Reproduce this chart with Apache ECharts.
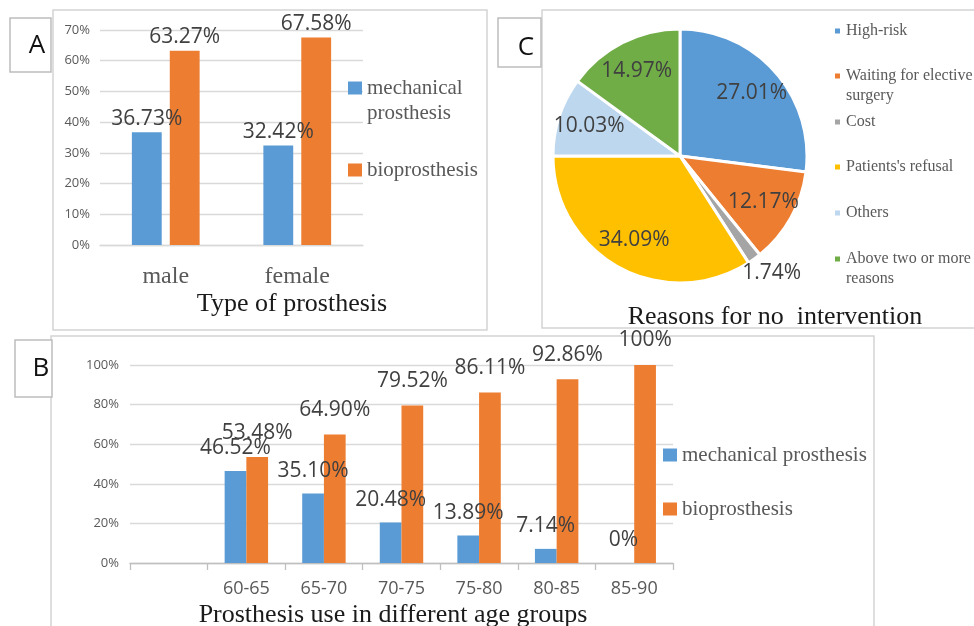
<!DOCTYPE html>
<html><head><meta charset="utf-8">
<script src="https://cdn.jsdelivr.net/npm/echarts@6/dist/echarts.min.js"></script>
<style>html,body{margin:0;padding:0;background:#fff}#c{width:974px;height:626px}</style>
</head><body><div id="c"></div><script>
// ---- data ----
const genderCats = ['male', 'female'];
const genderMech = [36.73, 32.42];
const genderBio = [63.27, 67.58];
const ageCats = ['', '60-65', '65-70', '70-75', '75-80', '80-85', '85-90'];
const ageMech = [null, 46.52, 35.10, 20.48, 13.89, 7.14, 0];
const ageBio = [null, 53.48, 64.90, 79.52, 86.11, 92.86, 100];
const reasonNames = ['High-risk', 'Waiting for elective surgery', 'Cost', "Patients's refusal", 'Others', 'Above two or more reasons'];
const reasonValues = [27.01, 12.17, 1.74, 34.09, 10.03, 14.97];
const seriesNames = ['mechanical prosthesis', 'bioprosthesis'];
const genderTicks = [0, 10, 20, 30, 40, 50, 60, 70];
const ageTicks = [0, 20, 40, 60, 80, 100];

// ---- styles ----
const BLUE = '#5b9bd5', ORANGE = '#ed7d31';
const pieColors = ['#5b9bd5', '#ed7d31', '#a5a5a5', '#ffc000', '#bdd7ee', '#70ad47'];
const SERIF = 'Liberation Serif';
const SANS = 'Open Sans';
const LABEL = '#404040';
const GRAYTXT = '#595959';
const GRID = '#d9d9d9';

const fmt = v => (v === 0 || v === 100) ? v + '%' : v.toFixed(2) + '%';

// legend item whose icon lines up with the first text line
function legendItem(name, text, left, cy, iw, ih, lh, fs) {
  const lines = text.split('\n').length;
  const shown = '\n'.repeat(lines - 1) + text;
  return {
    data: [name], left: left, top: cy - lh * (2 * lines - 1) / 2, padding: 0,
    itemWidth: iw, itemHeight: ih, selectedMode: false, icon: 'rect',
    formatter: () => shown,
    textStyle: { fontFamily: SERIF, fontSize: fs, color: GRAYTXT, lineHeight: lh }
  };
}

const legends = [
  legendItem(seriesNames[0], 'mechanical\nprosthesis', 348, 88, 14, 13, 25, 21),
  legendItem(seriesNames[1], 'bioprosthesis', 348, 170, 14, 13, 25, 21),
  legendItem(seriesNames[0], 'mechanical prosthesis', 663, 455, 14, 13, 24, 21),
  legendItem(seriesNames[1], 'bioprosthesis', 663, 509, 14, 13, 24, 21)
];
const cLegendText = ['High-risk', 'Waiting for elective\nsurgery', 'Cost', "Patients's refusal", 'Others', 'Above two or more\nreasons'];
const cLegendY = [31, 76, 122, 167, 213, 259];
reasonNames.forEach((n, i) => {
  legends.push(legendItem(n, cLegendText[i], 833, cLegendY[i], 7, 7, 20, 16));
});

function valueAxis(gridIndex, max, interval, margin) {
  return {
    type: 'value', gridIndex, min: 0, max, interval,
    axisLabel: { formatter: '{value}%', fontFamily: SANS, fontSize: 13, color: GRAYTXT, margin },
    splitLine: { lineStyle: { color: GRID, width: 1.3 } },
    axisLine: { show: false }, axisTick: { show: false }
  };
}

const barLabel = (dist) => ({ show: true, position: 'top', distance: dist,
  formatter: p => p.value == null ? '' : fmt(p.value), fontFamily: SANS, fontSize: 21, color: LABEL });

const option = {
  animation: false,
  backgroundColor: '#fff',
  color: [BLUE, ORANGE],
  title: [
    { text: 'Type of prosthesis', left: 287, top: 286, textAlign: 'center',
      textStyle: { fontFamily: SERIF, fontSize: 26, fontWeight: 'normal', color: '#1a1a1a' } },
    { text: 'Reasons for no  intervention', left: 770, top: 299, textAlign: 'center',
      textStyle: { fontFamily: SERIF, fontSize: 26, fontWeight: 'normal', color: '#1a1a1a' } },
    { text: 'Prosthesis use in different age groups', left: 388, top: 597, textAlign: 'center',
      textStyle: { fontFamily: SERIF, fontSize: 26, fontWeight: 'normal', color: '#1a1a1a' } }
  ],
  legend: legends,
  grid: [
    { left: 100, top: 30, width: 263, height: 215 },
    { left: 130, top: 365, width: 543, height: 198 }
  ],
  xAxis: [
    { type: 'category', gridIndex: 0, data: genderCats,
      axisLine: { lineStyle: { color: GRID, width: 1.3 } }, axisTick: { show: false },
      axisLabel: { fontFamily: SERIF, fontSize: 24, color: GRAYTXT, margin: 20 } },
    { type: 'category', gridIndex: 1, data: ageCats,
      axisLine: { lineStyle: { color: '#bfbfbf', width: 1.3 } },
      axisTick: { show: true, length: 7, lineStyle: { color: '#bfbfbf', width: 1.3 } },
      axisLabel: { fontFamily: SANS, fontSize: 18, color: GRAYTXT, margin: 17, interval: 0 } }
  ],
  yAxis: [
    valueAxis(0, genderTicks[genderTicks.length - 1], genderTicks[1] - genderTicks[0], 10),
    valueAxis(1, ageTicks[ageTicks.length - 1], ageTicks[1] - ageTicks[0], 11)
  ],
  series: [
    { name: seriesNames[0], type: 'bar', xAxisIndex: 0, yAxisIndex: 0, data: genderMech,
      barWidth: '22.7%', barGap: '27%', itemStyle: { color: BLUE }, label: barLabel(3) },
    { name: seriesNames[1], type: 'bar', xAxisIndex: 0, yAxisIndex: 0, data: genderBio,
      barWidth: '22.7%', barGap: '27%', itemStyle: { color: ORANGE }, label: barLabel(3) },
    { name: seriesNames[0], type: 'bar', xAxisIndex: 1, yAxisIndex: 1, data: ageMech,
      barWidth: '28%', barGap: '0%', itemStyle: { color: BLUE }, label: barLabel(12) },
    { name: seriesNames[1], type: 'bar', xAxisIndex: 1, yAxisIndex: 1, data: ageBio,
      barWidth: '28%', barGap: '0%', itemStyle: { color: ORANGE }, label: barLabel(14) },
    { name: 'reasons', type: 'pie', center: [680, 156], radius: [0, 127], startAngle: 90, clockwise: true,
      avoidLabelOverlap: false,
      data: reasonNames.map((n, i) => ({ name: n, value: reasonValues[i], itemStyle: { color: pieColors[i] } })),
      itemStyle: { borderColor: '#fff', borderWidth: 3 },
      label: { show: false }, labelLine: { show: false }, emphasis: { disabled: true } },
    { name: 'reasonLabels', type: 'pie', center: [680, 156], radius: [58, 127], startAngle: 90, clockwise: true,
      avoidLabelOverlap: false, silent: true,
      data: reasonNames.map((n, i) => ({
        name: n, value: reasonValues[i],
        label: i === 2 ? { position: 'outside', distanceToLabelLine: -22 } : undefined,
        labelLine: i === 2 ? { show: false, length: 17, length2: 0 } : undefined
      })),
      itemStyle: { color: 'rgba(0,0,0,0)' },
      label: { show: true, position: 'inside', formatter: p => p.value.toFixed(2) + '%', fontFamily: SANS, fontSize: 21, color: LABEL },
      labelLine: { show: false }, emphasis: { disabled: true } }
  ],
  graphic: [
    { type: 'rect', shape: { x: 53, y: 10, width: 434, height: 320 }, style: { fill: 'none', stroke: '#d4d4d4', lineWidth: 1.5 }, z: -1 },
    { type: 'rect', shape: { x: 542, y: 10, width: 450, height: 318 }, style: { fill: 'none', stroke: '#d4d4d4', lineWidth: 1.5 }, z: -1 },
    { type: 'rect', shape: { x: 51, y: 336, width: 823, height: 320 }, style: { fill: 'none', stroke: '#d4d4d4', lineWidth: 1.5 }, z: -1 },
    { type: 'rect', shape: { x: 10, y: 18, width: 41, height: 54 }, style: { fill: '#fff', stroke: '#bdbdbd', lineWidth: 1.5 } },
    { type: 'text', x: 37, y: 46, style: { text: 'A', font: '26px "Open Sans"', fill: '#111', align: 'center', verticalAlign: 'middle' } },
    { type: 'rect', shape: { x: 498, y: 18, width: 43, height: 49 }, style: { fill: '#fff', stroke: '#bdbdbd', lineWidth: 1.5 } },
    { type: 'text', x: 526, y: 48, style: { text: 'C', font: '26px "Open Sans"', fill: '#111', align: 'center', verticalAlign: 'middle' } },
    { type: 'rect', shape: { x: 15, y: 340, width: 37, height: 57 }, style: { fill: '#fff', stroke: '#bdbdbd', lineWidth: 1.5 } },
    { type: 'text', x: 41, y: 369, style: { text: 'B', font: '26px "Open Sans"', fill: '#111', align: 'center', verticalAlign: 'middle' } }
  ]
};

const chart = echarts.init(document.getElementById('c'), null, { renderer: 'canvas' });
chart.setOption(option);
</script></body></html>
